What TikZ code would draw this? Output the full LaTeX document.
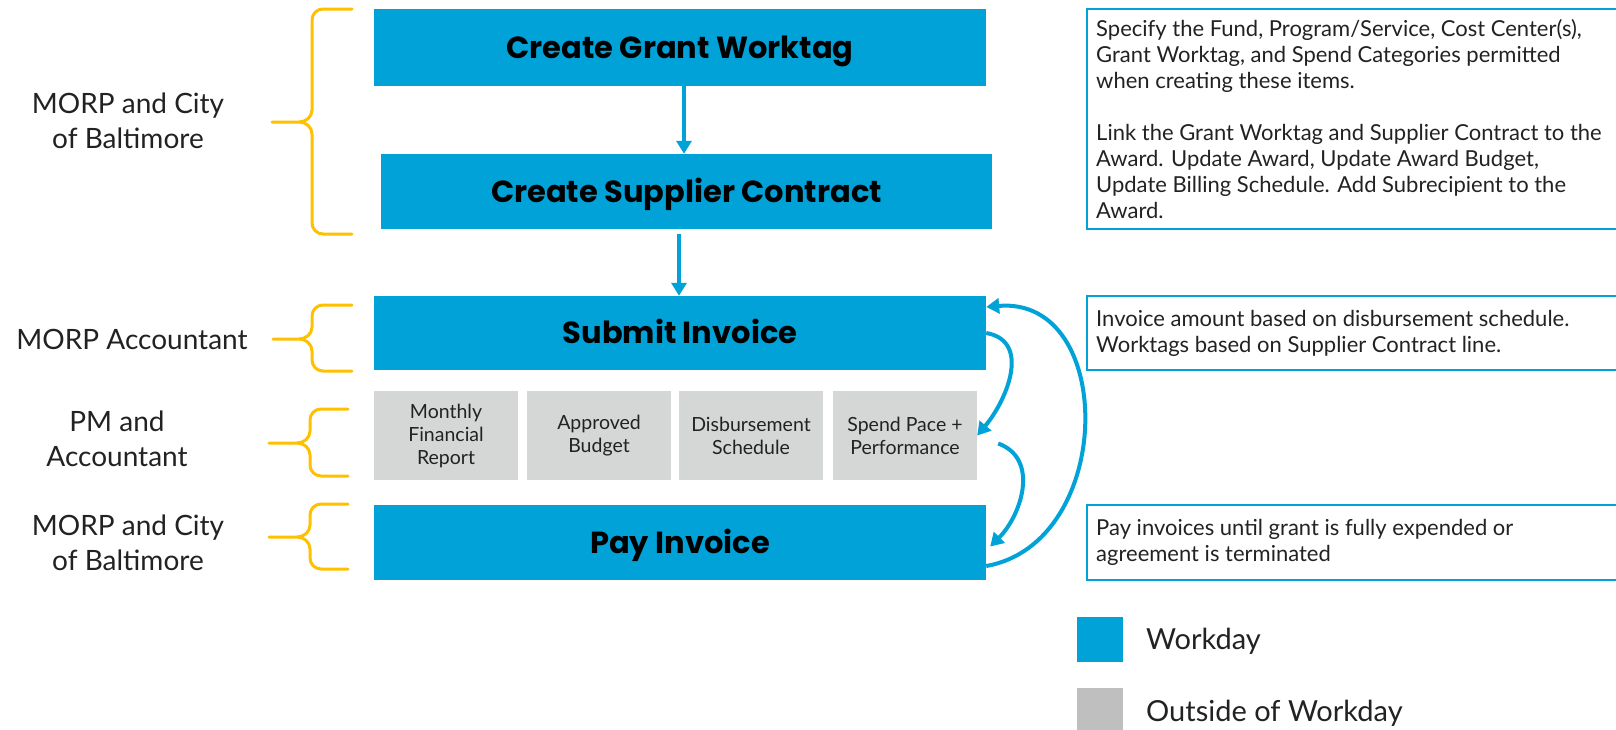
\documentclass[tikz,border=0pt]{standalone}
\usepackage{fontspec}
\setmainfont{Lato}
\newfontfamily\titlefont{Poppins}
\usetikzlibrary{arrows.meta,calc}
\definecolor{wblue}{RGB}{0,162,216}
\definecolor{ggray}{RGB}{213,215,214}
\definecolor{lgray}{RGB}{191,191,191}
\definecolor{bgold}{RGB}{255,192,0}
\definecolor{txt}{RGB}{34,34,34}
\newcommand\brc[6]{%
  \draw[brace] (#1,#4) -- ({#2+11},#4) to[out=180,in=90] (#2,{#4+11})
    -- (#2,{#5-12}) to[out=-90,in=0] ({#2-13},#5) -- (#3,#5)
    -- ({#2-13},#5) to[out=0,in=90] (#2,{#5+12})
    -- (#2,{#6-11}) to[out=-90,in=180] ({#2+11},#6) -- (#1,#6);}
\begin{document}
\begin{tikzpicture}[x=1pt,y=-1pt,
 bluebox/.style={fill=wblue, draw=none, inner sep=0pt, minimum width=612pt, minimum height=75pt, text height=21pt, text depth=0pt, font=\titlefont\bfseries\fontsize{30.5}{34}\selectfont, text=black},
 graybox/.style={fill=ggray, draw=none, inner sep=0pt, minimum width=144pt, minimum height=89pt, align=center, font=\fontsize{19.5}{23}\selectfont, text=txt},
 notebox/.style={draw=wblue, line width=2pt, inner sep=0pt, minimum width=533pt},
 notetext/.style={anchor=west, align=left, inner sep=0pt, font=\fontsize{22}{26}\selectfont, text=txt},
 role/.style={align=center, inner sep=0pt, font=\fontsize{28}{35}\selectfont, text=txt},
 legtext/.style={anchor=west, inner sep=0pt, font=\fontsize{29}{32}\selectfont, text=txt},
 flow/.style={draw=wblue, line width=4pt, -{Triangle[length=13pt,width=15pt]}},
 brace/.style={draw=bgold, line width=3pt, line cap=round, line join=round}]

\useasboundingbox (0,0) rectangle (1616,729);

% main flow boxes
\node[bluebox, minimum height=77pt] (b1) at (680,47.5) {Create Grant Worktag};
\node[bluebox, minimum width=611pt] (b2) at (686.5,191.5) {Create Supplier Contract};
\node[bluebox, minimum height=74pt] (sub) at (680,333) {Submit Invoice};
\node[graybox] (g1) at (446,435.5) {Monthly\\Financial\\Report};
\node[graybox] (g2) at (599,435.5) {Approved\\Budget};
\node[graybox] (g3) at (751,435.5) {Disbursement\\Schedule};
\node[graybox] (g4) at (905,435.5) {Spend Pace +\\Performance};
\node[bluebox] (pay) at (680,542.5) {Pay Invoice};

% notes
\node[notebox, minimum height=220pt] (n1) at (1353.5,119) {};
\node[notetext] (t1) at ([xshift=10pt]n1.west) {Specify the Fund, Program/Service, Cost Center(s),\\Grant Worktag, and Spend Categories permitted\\when creating these items.\\[26pt]Link the Grant Worktag and Supplier Contract to the\\Award. Update Award, Update Award Budget,\\Update Billing Schedule. Add Subrecipient to the\\Award.};
\node[notebox, minimum height=74pt] (n2) at (1353.5,333) {};
\node[notetext] (t2) at ([xshift=10pt]n2.west) {Invoice amount based on disbursement schedule.\\Worktags based on Supplier Contract line.};
\node[notebox, minimum height=75pt] (n3) at (1353.5,542.5) {};
\node[notetext] (t3) at ([xshift=10pt]n3.west) {Pay invoices until grant is fully expended or\\agreement is terminated};

% legend
\node[fill=wblue, inner sep=0pt, minimum width=46pt, minimum height=45pt] (l1) at (1100,639.5) {};
\node[legtext] (lt1) at (1146,641) {Workday};
\node[fill=lgray, inner sep=0pt, minimum width=46pt, minimum height=48pt] (l2) at (1100,712) {};
\node[legtext] (lt2) at (1146,713) {Outside of Workday};

% roles
\node[role] (r1) at (128,120.5) {MORP and City\\of Baltimore};
\node[role] (r2) at (132,339) {MORP Accountant};
\node[role] (r3) at (117,438.5) {PM and\\Accountant};
\node[role] (r4) at (128,542.5) {MORP and City\\of Baltimore};

% braces
\brc{352}{312}{272}{9}{122}{234}
\brc{352}{312}{273}{305}{339}{371}
\brc{348}{310}{269}{409}{443}{476}
\brc{348}{310}{269}{504}{537}{569}

% connectors
\draw[flow] ([xshift=4pt]b1.south) -- ([xshift=4pt]b1.south |- b2.north);
\draw[flow, shorten <=5pt] ([xshift=-1pt]sub.north |- b2.south) -- ([xshift=-1pt]sub.north);
\draw[flow] (sub.east) to[out=-10,in=50,looseness=1.15] (g4.east);
\draw[flow] ([xshift=21pt,yshift=-8pt]g4.east) to[out=-20,in=45,looseness=1.1] ([xshift=4pt,yshift=-4pt]pay.east);
\draw[flow] ([yshift=-23.5pt]pay.east) to[out=10,in=5,looseness=1.3] ([yshift=26pt]sub.east);
\end{tikzpicture}
\end{document}
